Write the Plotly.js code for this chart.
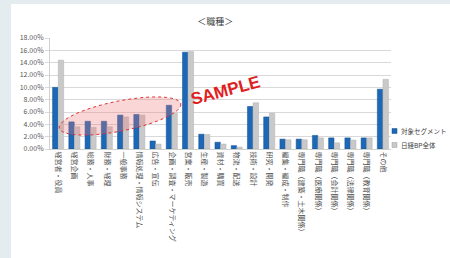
<!DOCTYPE html>
<html><head><meta charset="utf-8">
<script src="https://cdn.plot.ly/plotly-3.0.1.min.js"></script>
<style>
html,body{margin:0;padding:0;width:450px;height:258px;overflow:hidden;background:#e4ecf0;}
#chart{position:absolute;left:11px;top:4px;width:439px;height:254px;background:#fff;}
</style></head>
<body><div id="chart"></div>
<script>
const categories = ["経営者・役員","経営企画","総務・人事","財務・経理","一般事務","情報処理・情報システム","広告・宣伝","企画・調査・マーケティング","営業・販売","生産・製造","資材・購買","物流・配送","技術・設計","研究・開発","編集・編成・制作","専門職（建築・土木関係）","専門職（医療関係）","専門職（会計関係）","専門職（法律関係）","専門職（教育関係）","その他"];
const segmentValues = [0.100,0.044,0.045,0.045,0.055,0.056,0.013,0.071,0.157,0.024,0.011,0.0055,0.069,0.052,0.016,0.016,0.022,0.018,0.018,0.018,0.097];
const totalValues = [0.144,0.036,0.035,0.036,0.052,0.055,0.008,0.058,0.158,0.0235,0.008,0.003,0.075,0.058,0.015,0.015,0.018,0.010,0.0145,0.018,0.113];
const seriesNames = ["対象セグメント","日経BP全体"];
const seriesColors = ["#1c67b6","#c9c9c9"];
const yTicks = [0,0.02,0.04,0.06,0.08,0.10,0.12,0.14,0.16,0.18];

const W=439,H=254,L=39,R=59,T=34,B=109;
const pw=W-L-R, ph=H-T-B;
function toPaper(px,py){return [(px-L)/pw,(H-B-py)/ph];}
// decorative highlight ellipse (div pixel geometry -> paper)
let cx=109,cy=112,a=62,b=15,rot=-11.3*Math.PI/180,pts=[];
for(let i=0;i<=48;i++){const t=i/48*2*Math.PI;const x=a*Math.cos(t),y=b*Math.sin(t);
 const px=cx+x*Math.cos(rot)-y*Math.sin(rot), py=cy+x*Math.sin(rot)+y*Math.cos(rot);
 const p=toPaper(px,py);pts.push((i?'L':'M')+p[0].toFixed(4)+','+p[1].toFixed(4));}
const ellipsePath=pts.join(' ')+' Z';

const data=[
 {type:'bar',name:seriesNames[0],x:categories,y:segmentValues,marker:{color:seriesColors[0],line:{color:'#14508f',width:0.5}}},
 {type:'bar',name:seriesNames[1],x:categories,y:totalValues,marker:{color:seriesColors[1],line:{color:'#b0b0b0',width:0.5}}}
];
// custom compact legend
const legShapes=[], legAnn=[];
seriesNames.forEach((n,i)=>{
 const cyL=127+i*14; // div px
 const p0=toPaper(381,cyL-2.5), p1=toPaper(386,cyL+2.5);
 legShapes.push({type:'rect',xref:'paper',yref:'paper',x0:p0[0],x1:p1[0],y0:p1[1],y1:p0[1],fillcolor:seriesColors[i],line:{color:i?'#a0a0a0':'#14508f',width:0.5}});
 const pt=toPaper(388,cyL);
 legAnn.push({text:n,xref:'paper',yref:'paper',x:pt[0],y:pt[1],xanchor:'left',yanchor:'middle',showarrow:false,font:{size:6.5,color:'#404040'}});
});

const layout={
 width:W,height:H,margin:{l:L,r:R,t:T,b:B},
 paper_bgcolor:'#fff',plot_bgcolor:'#fff',
 font:{family:'"Noto Sans CJK JP", "Noto Sans", sans-serif',color:'#595959',size:7},
 title:{text:'＜職種＞',x:0.465,xref:'container',y:1-18/H,yref:'container',xanchor:'center',yanchor:'middle',font:{size:9,color:'#404040'}},
 barmode:'group',bargap:0.3,bargroupgap:0.05,
 xaxis:{tickangle:90,showline:true,linecolor:'#d0d0d0',ticks:'',tickfont:{size:7,color:'#505050'},automargin:false},
 yaxis:{range:[0,0.18],tickvals:yTicks,tickformat:'.2%',showline:true,linecolor:'#d0d0d0',gridcolor:'#d9d9d9',zeroline:false,ticks:'outside',ticklen:4,tickcolor:'#d9d9d9',tickfont:{size:7,color:'#595959'},automargin:false},
 showlegend:false,
 shapes:[{type:'path',xref:'paper',yref:'paper',path:ellipsePath,fillcolor:'rgba(240,120,120,0.3)',line:{color:'#e03030',width:1,dash:'dot'},layer:'above'}].concat(legShapes),
 annotations:[{text:'<b>SAMPLE</b>',xref:'paper',yref:'paper',x:0.516,y:0.53,showarrow:false,textangle:-15,font:{size:17,color:'#e02020',family:'"Liberation Sans", Arial, sans-serif'}}].concat(legAnn)
};
Plotly.newPlot('chart',data,layout,{staticPlot:true,displayModeBar:false});
</script></body></html>
